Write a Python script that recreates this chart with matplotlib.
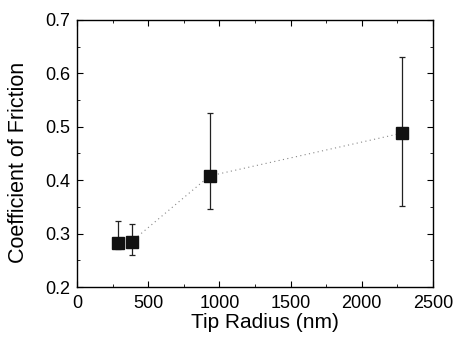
import matplotlib
matplotlib.use("Agg")
import matplotlib.pyplot as plt
import numpy as np
from matplotlib.ticker import MultipleLocator

plt.rcParams['font.family'] = ['Liberation Sans', 'DejaVu Sans']

tip_radius = [285, 383, 931, 2280]
cof = [0.283, 0.285, 0.408, 0.488]
err_low = [0.012, 0.025, 0.061, 0.136]
err_high = [0.041, 0.033, 0.118, 0.143]

fig = plt.figure(figsize=(4.53, 3.38), dpi=100)
ax = fig.add_axes([77/453, 1-287/338, (433-77)/453, (287-20)/338])

ax.plot(tip_radius, cof, linestyle=(0, (1, 3)), color='#888888', linewidth=0.8, zorder=1)
ax.errorbar(tip_radius, cof, yerr=[err_low, err_high], fmt='none', ecolor='#222222',
            elinewidth=0.9, capsize=2, capthick=0.9, zorder=2)
ax.plot(tip_radius, cof, linestyle='none', marker='s', markersize=8, color='#111111', zorder=3)

ax.set_xlim(0, 2500)
ax.set_ylim(0.2, 0.7)
ax.xaxis.set_major_locator(MultipleLocator(500))
ax.xaxis.set_minor_locator(MultipleLocator(250))
ax.yaxis.set_major_locator(MultipleLocator(0.1))
ax.yaxis.set_minor_locator(MultipleLocator(0.05))
ax.yaxis.set_major_formatter(matplotlib.ticker.FormatStrFormatter('%.1f'))
ax.tick_params(which='both', direction='in', top=True, right=True, labelsize=13)
ax.tick_params(which='major', length=4)
ax.tick_params(which='minor', length=2)
ax.tick_params(axis='x', which='major', pad=6)
ax.tick_params(axis='y', which='major', pad=5)
for s in ax.spines.values():
    s.set_linewidth(1.0)

ax.set_xlabel('Tip Radius (nm)', fontsize=15)
ax.set_ylabel('Coefficient of Friction', fontsize=15.5)
ax.xaxis.set_label_coords((265 - 77) / 356, (287 - 313) / 267)
ax.yaxis.set_label_coords((29 - 77) / 356, (287 - 162) / 267)

fig.savefig('out.png', dpi=100)
